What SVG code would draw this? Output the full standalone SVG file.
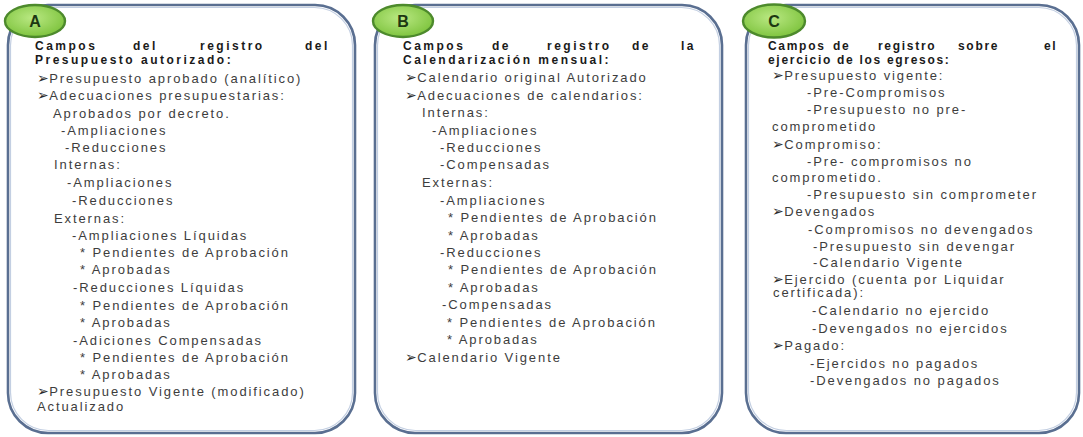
<svg xmlns="http://www.w3.org/2000/svg" width="1083" height="437" viewBox="0 0 1083 437">
<defs>
<radialGradient id="gg" cx="0.45" cy="0.4" r="0.6">
<stop offset="0" stop-color="#b9e882"/>
<stop offset="1" stop-color="#7fc43f"/>
</radialGradient>
<style>
.box{fill:#ffffff;stroke:#5a6f91;stroke-width:2.6}
.boxin{fill:none;stroke:#c3cfe2;stroke-width:1.2}
.badge{fill:url(#gg);stroke:#4d8a2c;stroke-width:2.4}
.bl{font-family:"Liberation Sans",Arial,sans-serif;font-weight:bold;font-size:16px;fill:#1d3812;text-anchor:middle}
.h{font-family:"Liberation Sans",Arial,sans-serif;font-weight:bold;font-size:12px;fill:#1a1a1a;letter-spacing:2.5px}
.hc{letter-spacing:1.7px}
.t{font-family:"Liberation Sans",Arial,sans-serif;font-size:13px;fill:#3d3d3d;letter-spacing:1.9px}
.ar{font-family:"DejaVu Sans",sans-serif;font-size:14px;fill:#2a2a2a;letter-spacing:0.5px}
</style>
</defs>

<g id="panelA">
<rect class="box" x="8" y="5" width="347" height="428" rx="40" ry="40"/>
<rect class="boxin" x="10.5" y="7.5" width="342" height="423" rx="38" ry="38"/>
<ellipse class="badge" cx="35" cy="21" rx="30" ry="16"/>
<text class="bl" x="35" y="27">A</text>
<text class="h" x="35" y="50">Campos</text>
<text class="h" x="133" y="50">del</text>
<text class="h" x="200" y="50">registro</text>
<text class="h" x="305" y="50">del</text>
<text class="h" x="35" y="64">Presupuesto autorizado:</text>
<text class="t" x="37" y="83"><tspan class="ar">➢</tspan>Presupuesto aprobado (analítico)</text>
<text class="t" x="37" y="100"><tspan class="ar">➢</tspan>Adecuaciones presupuestarias:</text>
<text class="t" x="53" y="118">Aprobados por decreto.</text>
<text class="t" x="61" y="135">-Ampliaciones</text>
<text class="t" x="65" y="152">-Reducciones</text>
<text class="t" x="54" y="169">Internas:</text>
<text class="t" x="67" y="187">-Ampliaciones</text>
<text class="t" x="72" y="205">-Reducciones</text>
<text class="t" x="54" y="223">Externas:</text>
<text class="t" x="72" y="240">-Ampliaciones Líquidas</text>
<text class="t" x="80" y="257">* Pendientes de Aprobación</text>
<text class="t" x="80" y="274">* Aprobadas</text>
<text class="t" x="73" y="292">-Reducciones Líquidas</text>
<text class="t" x="80" y="310">* Pendientes de Aprobación</text>
<text class="t" x="80" y="327">* Aprobadas</text>
<text class="t" x="73" y="345">-Adiciones Compensadas</text>
<text class="t" x="80" y="362">* Pendientes de Aprobación</text>
<text class="t" x="80" y="379">* Aprobadas</text>
<text class="t" x="37" y="396"><tspan class="ar">➢</tspan>Presupuesto Vigente (modificado)</text>
<text class="t" x="37" y="411">Actualizado</text>
</g>

<g id="panelB">
<rect class="box" x="375" y="5" width="347" height="428" rx="40" ry="40"/>
<rect class="boxin" x="377.5" y="7.5" width="342" height="423" rx="38" ry="38"/>
<ellipse class="badge" cx="403" cy="21" rx="30" ry="16"/>
<text class="bl" x="403" y="27">B</text>
<text class="h" x="403" y="50">Campos</text>
<text class="h" x="492" y="50">de</text>
<text class="h" x="547" y="50">registro</text>
<text class="h" x="632" y="50">de</text>
<text class="h" x="681" y="50">la</text>
<text class="h" x="403" y="64">Calendarización mensual:</text>
<text class="t" x="405" y="82"><tspan class="ar">➢</tspan>Calendario original Autorizado</text>
<text class="t" x="405" y="100"><tspan class="ar">➢</tspan>Adecuaciones de calendarios:</text>
<text class="t" x="422" y="117">Internas:</text>
<text class="t" x="432" y="135">-Ampliaciones</text>
<text class="t" x="440" y="152">-Reducciones</text>
<text class="t" x="440" y="169">-Compensadas</text>
<text class="t" x="422" y="187">Externas:</text>
<text class="t" x="440" y="205">-Ampliaciones</text>
<text class="t" x="448" y="222">* Pendientes de Aprobación</text>
<text class="t" x="448" y="240">* Aprobadas</text>
<text class="t" x="440" y="257">-Reducciones</text>
<text class="t" x="448" y="274">* Pendientes de Aprobación</text>
<text class="t" x="448" y="292">* Aprobadas</text>
<text class="t" x="442" y="309">-Compensadas</text>
<text class="t" x="447" y="327">* Pendientes de Aprobación</text>
<text class="t" x="447" y="344">* Aprobadas</text>
<text class="t" x="405" y="362"><tspan class="ar">➢</tspan>Calendario Vigente</text>
</g>

<g id="panelC">
<rect class="box" x="746" y="5" width="333" height="428" rx="40" ry="40"/>
<rect class="boxin" x="748.5" y="7.5" width="328" height="423" rx="38" ry="38"/>
<ellipse class="badge" cx="774" cy="21" rx="31" ry="16.5"/>
<text class="bl" x="774" y="27">C</text>
<text class="h hc" x="768" y="50">Campos</text>
<text class="h hc" x="833" y="50">de</text>
<text class="h hc" x="878" y="50">registro</text>
<text class="h hc" x="958" y="50">sobre</text>
<text class="h hc" x="1044" y="50">el</text>
<text class="h hc" x="768" y="64">ejercicio de los egresos:</text>
<text class="t" x="772" y="80"><tspan class="ar">➢</tspan>Presupuesto vigente:</text>
<text class="t" x="807" y="97">-Pre-Compromisos</text>
<text class="t" x="807" y="114">-Presupuesto no pre-</text>
<text class="t" x="772" y="131">comprometido</text>
<text class="t" x="772" y="149"><tspan class="ar">➢</tspan>Compromiso:</text>
<text class="t" x="807" y="166">-Pre- compromisos no</text>
<text class="t" x="772" y="182">comprometido.</text>
<text class="t" x="807" y="199">-Presupuesto sin comprometer</text>
<text class="t" x="772" y="216"><tspan class="ar">➢</tspan>Devengados</text>
<text class="t" x="808" y="234">-Compromisos no devengados</text>
<text class="t" x="813" y="251">-Presupuesto sin devengar</text>
<text class="t" x="813" y="267">-Calendario Vigente</text>
<text class="t" x="772" y="284"><tspan class="ar">➢</tspan>Ejercido (cuenta por Liquidar</text>
<text class="t" x="773" y="297">certificada):</text>
<text class="t" x="812" y="315">-Calendario no ejercido</text>
<text class="t" x="812" y="333">-Devengados no ejercidos</text>
<text class="t" x="772" y="350"><tspan class="ar">➢</tspan>Pagado:</text>
<text class="t" x="810" y="368">-Ejercidos no pagados</text>
<text class="t" x="810" y="385">-Devengados no pagados</text>
</g>

<g id="connectors"></g>
</svg>
